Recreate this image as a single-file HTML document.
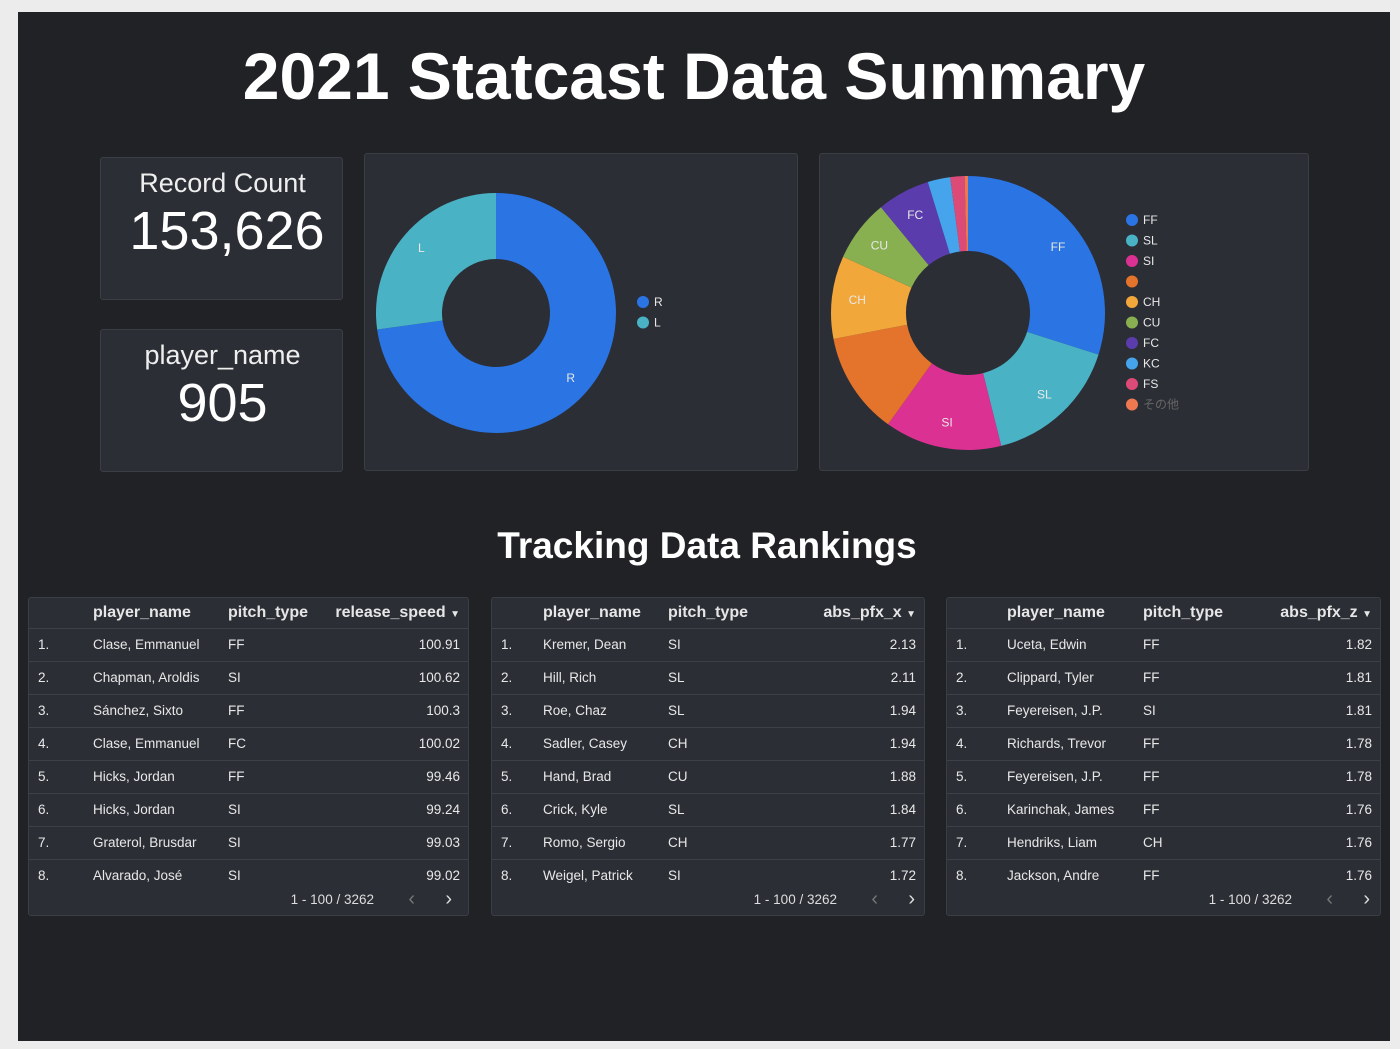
<!DOCTYPE html>
<html><head><meta charset="utf-8">
<style>
*{box-sizing:border-box;margin:0;padding:0}
body{width:1400px;height:1049px;background:#ececec;font-family:"Liberation Sans","DejaVu Sans","Noto Sans CJK JP",sans-serif;position:relative;overflow:hidden}
#page{position:absolute;left:18px;top:12px;width:1372px;height:1029px;background:#212226}
.card{position:absolute;background:#2b2e35;border:1px solid #3b3e45;border-radius:3px}
.t{position:absolute;color:#fff;text-align:center;white-space:nowrap}
.kpi-l{font-size:27px;color:#eee}
.kpi-v{font-size:54px;color:#fff}
table{border-collapse:collapse;width:100%;font-size:13.5px;color:#e8e8e8}
th{font-weight:bold;font-size:16px;height:30px;text-align:left;color:#e6e6e6}
td{height:33px;border-top:1px solid #3d4047}
.num{text-align:right;padding-right:8px}
.pager{position:absolute;bottom:8px;font-size:13.5px;color:#ddd}
</style></head><body>
<div id="page"></div>
<div class="t" style="left:0;width:1388px;top:38px;font-size:66px;font-weight:bold;">2021 Statcast Data Summary</div>

<div class="card" style="left:100px;top:157px;width:243px;height:143px">
 <div class="t kpi-l" style="left:0;width:243px;top:10px">Record Count</div>
 <div class="t kpi-v" style="left:0;width:252px;top:42px">153,626</div>
</div>
<div class="card" style="left:100px;top:329px;width:243px;height:143px">
 <div class="t kpi-l" style="left:0;width:243px;top:10px">player_name</div>
 <div class="t kpi-v" style="left:0;width:243px;top:42px">905</div>
</div>

<div class="card" style="left:364px;top:153px;width:434px;height:318px"></div>
<div class="card" style="left:819px;top:153px;width:490px;height:318px"></div>
<svg id="pies" width="1400" height="1049" style="position:absolute;left:0;top:0"></svg>

<div class="t" style="left:0;width:1414px;top:525px;font-size:37px;font-weight:bold">Tracking Data Rankings</div>

<div id="tables"></div>

<script>
const NS='http://www.w3.org/2000/svg';
const svg=document.getElementById('pies');
// Pie 1 data
const pie1Labels=['R','L'];
const pie1Values=[72.8,27.2];
const pie1Colors=['#2a74e4','#4ab2c5'];
// Pie 2 data
const pie2Labels=['FF','SL','SI','','CH','CU','FC','KC','FS','その他'];
const pie2Values=[30.3,16.4,14.0,12.2,9.9,7.4,6.3,2.7,1.7,0.4];
const pie2Colors=['#2a74e4','#4ab2c5','#db3192','#e4742c','#f2a73b','#88b050','#5a3cad','#45a4ec','#dc4b78','#ee7950'];
const pie2SliceLabels=['FF','SL','SI','','CH','CU','FC','','',''];

function pt(cx,cy,r,a){return [cx+r*Math.sin(a),cy-r*Math.cos(a)];}
function drawPie(name,labels,values,colors,sliceLabels,cx,cy,ro,ri,lx,ly){
  const tot=values.reduce((a,b)=>a+b,0);let a0=0;
  values.forEach((v,i)=>{
    const a1=a0+v/tot*2*Math.PI;
    const [x0,y0]=pt(cx,cy,ro,a0),[x1,y1]=pt(cx,cy,ro,a1),[x2,y2]=pt(cx,cy,ri,a1),[x3,y3]=pt(cx,cy,ri,a0);
    const lg=(a1-a0)>Math.PI?1:0;
    const p=document.createElementNS(NS,'path');
    p.setAttribute('d',`M${x0},${y0}A${ro},${ro} 0 ${lg} 1 ${x1},${y1}L${x2},${y2}A${ri},${ri} 0 ${lg} 0 ${x3},${y3}Z`);
    p.setAttribute('fill',colors[i]);
    
    
    svg.appendChild(p);
    if(sliceLabels[i]){
      const [tx,ty]=pt(cx,cy,(ro+ri)/2+12,(a0+a1)/2);
      const t=document.createElementNS(NS,'text');
      t.setAttribute('x',tx);t.setAttribute('y',ty+4);t.setAttribute('fill','#e8e8e8');
      t.setAttribute('font-size','12');t.setAttribute('text-anchor','middle');
      t.setAttribute('font-family','Liberation Sans, sans-serif');
      t.textContent=sliceLabels[i];
      
      
      svg.appendChild(t);
    }
    a0=a1;
  });
  labels.forEach((l,i)=>{
    const c=document.createElementNS(NS,'circle');
    c.setAttribute('cx',lx);c.setAttribute('cy',ly+i*20.5);c.setAttribute('r',6);c.setAttribute('fill',colors[i]);
    
    
    svg.appendChild(c);
    const t=document.createElementNS(NS,'text');
    t.setAttribute('x',lx+11);t.setAttribute('y',ly+i*20.5+4);
    t.setAttribute('fill',l==='その他'?'#666':'#e8e8e8');t.setAttribute('font-size','12');
    t.setAttribute('font-family','Liberation Sans, Noto Sans CJK JP, sans-serif');
    t.textContent=l;
    
    
    svg.appendChild(t);
  });
}
drawPie('stand-pie',pie1Labels,pie1Values,pie1Colors,pie1Labels,496,313,120,54,643,302);
drawPie('pitch-pie',pie2Labels,pie2Values,pie2Colors,pie2SliceLabels,968,313,137,62,1132,220);

// Table data
const t1Names=['Clase, Emmanuel','Chapman, Aroldis','Sánchez, Sixto','Clase, Emmanuel','Hicks, Jordan','Hicks, Jordan','Graterol, Brusdar','Alvarado, José'];
const t1Types=['FF','SI','FF','FC','FF','SI','SI','SI'];
const t1Values=['100.91','100.62','100.3','100.02','99.46','99.24','99.03','99.02'];
const t2Names=['Kremer, Dean','Hill, Rich','Roe, Chaz','Sadler, Casey','Hand, Brad','Crick, Kyle','Romo, Sergio','Weigel, Patrick'];
const t2Types=['SI','SL','SL','CH','CU','SL','CH','SI'];
const t2Values=['2.13','2.11','1.94','1.94','1.88','1.84','1.77','1.72'];
const t3Names=['Uceta, Edwin','Clippard, Tyler','Feyereisen, J.P.','Richards, Trevor','Feyereisen, J.P.','Karinchak, James','Hendriks, Liam','Jackson, Andre'];
const t3Types=['FF','FF','SI','FF','FF','FF','CH','FF'];
const t3Values=['1.82','1.81','1.81','1.78','1.78','1.76','1.76','1.76'];

function makeTable(name,left,width,metric,names,types,vals,colW){
  const card=document.createElement('div');
  card.className='card';
  card.style.cssText=`left:${left}px;top:597px;width:${width}px;height:319px;overflow:hidden`;
  
  
  let h=`<table><colgroup><col style="width:${colW[0]}px"><col style="width:${colW[1]}px"><col style="width:${colW[2]}px"><col></colgroup>
  <tr><th></th><th>player_name</th><th>pitch_type</th><th class="num" style="text-align:right">${metric} <span style="font-size:10px">▼</span></th></tr>`;
  names.forEach((n,i)=>{h+=`<tr><td style="padding-left:9px">${i+1}.</td><td>${n}</td><td>${types[i]}</td><td class="num">${vals[i]}</td></tr>`;});
  h+='</table>';
  h+=`<div class="pager" style="right:${width-347}px">1 - 100 / 3262</div>
  <div class="pager" style="right:${width-388}px;color:#777;font-size:20px;bottom:4px">&#x2039;</div>
  <div class="pager" style="right:${width-425}px;font-size:20px;bottom:4px">&#x203A;</div>`;
  card.innerHTML=h;
  document.getElementById('tables').appendChild(card);
}
makeTable('release-speed-table',28,441,'release_speed',t1Names,t1Types,t1Values,[64,135,100]);
makeTable('abs-pfx-x-table',491,434,'abs_pfx_x',t2Names,t2Types,t2Values,[51,125,110]);
makeTable('abs-pfx-z-table',946,435,'abs_pfx_z',t3Names,t3Types,t3Values,[60,136,110]);
</script>
</body></html>
